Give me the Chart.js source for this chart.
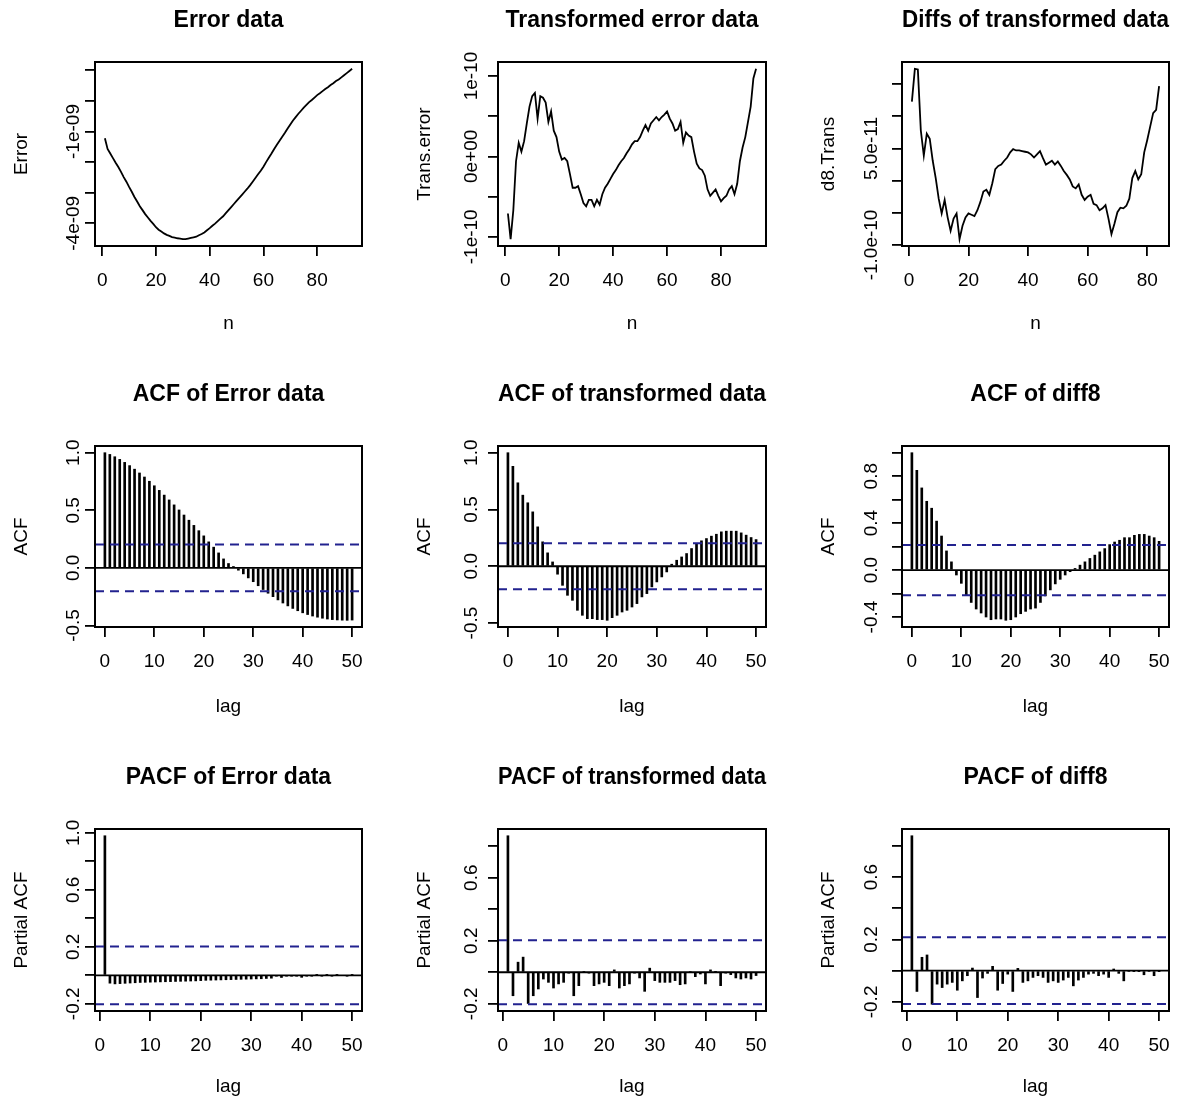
<!DOCTYPE html>
<html>
<head>
<meta charset="utf-8">
<script src="https://cdn.jsdelivr.net/npm/chart.js@4.4.1/dist/chart.umd.min.js"></script>
<style>
  body { margin: 0; background: #fff; }
  #wrap { position: relative; width: 1190px; height: 1104px; }
  #wrap canvas { position: absolute; }
</style>
</head>
<body>
<div id="wrap"></div>
<script>
// ---- data ----
const nError = Array.from({ length: 93 }, (_, i) => i + 1);
const errorData = [
  -1.22e-9, -1.57e-9, -1.72e-9, -1.87e-9, -2.02e-9, -2.16e-9, -2.32e-9, -2.49e-9, -2.64e-9, -2.81e-9,
  -2.97e-9, -3.14e-9, -3.29e-9, -3.44e-9, -3.57e-9, -3.70e-9, -3.81e-9, -3.92e-9, -4.02e-9, -4.13e-9,
  -4.21e-9, -4.27e-9, -4.33e-9, -4.38e-9, -4.41e-9, -4.45e-9, -4.47e-9, -4.49e-9, -4.50e-9, -4.52e-9,
  -4.52e-9, -4.50e-9, -4.48e-9, -4.46e-9, -4.44e-9, -4.39e-9, -4.35e-9, -4.30e-9, -4.23e-9, -4.16e-9,
  -4.08e-9, -4.01e-9, -3.93e-9, -3.85e-9, -3.77e-9, -3.67e-9, -3.57e-9, -3.47e-9, -3.37e-9, -3.27e-9,
  -3.17e-9, -3.07e-9, -2.97e-9, -2.87e-9, -2.76e-9, -2.64e-9, -2.52e-9, -2.40e-9, -2.28e-9, -2.15e-9,
  -2.00e-9, -1.86e-9, -1.72e-9, -1.57e-9, -1.43e-9, -1.30e-9, -1.17e-9, -1.04e-9, -0.90e-9, -0.77e-9,
  -0.64e-9, -0.53e-9, -0.42e-9, -0.32e-9, -0.22e-9, -0.13e-9, -0.04e-9, 0.03e-9, 0.11e-9, 0.19e-9,
  0.25e-9, 0.32e-9, 0.39e-9, 0.45e-9, 0.52e-9, 0.58e-9, 0.65e-9, 0.70e-9, 0.77e-9, 0.84e-9,
  0.91e-9, 0.98e-9, 1.05e-9
];

const nTrans = Array.from({ length: 93 }, (_, i) => i + 1);
const transData = [
  -0.71e-10, -1.03e-10, -0.67e-10, -0.06e-10, 0.17e-10, 0.06e-10, 0.19e-10, 0.41e-10, 0.62e-10, 0.75e-10,
  0.79e-10, 0.47e-10, 0.75e-10, 0.73e-10, 0.67e-10, 0.43e-10, 0.56e-10, 0.32e-10, 0.24e-10, 0.06e-10,
  -0.04e-10, -0.02e-10, -0.06e-10, -0.22e-10, -0.39e-10, -0.39e-10, -0.37e-10, -0.47e-10, -0.58e-10, -0.62e-10,
  -0.54e-10, -0.54e-10, -0.62e-10, -0.54e-10, -0.60e-10, -0.47e-10, -0.39e-10, -0.34e-10, -0.28e-10, -0.22e-10,
  -0.17e-10, -0.11e-10, -0.06e-10, -0.02e-10, 0.04e-10, 0.09e-10, 0.15e-10, 0.19e-10, 0.19e-10, 0.24e-10,
  0.32e-10, 0.39e-10, 0.32e-10, 0.41e-10, 0.45e-10, 0.49e-10, 0.45e-10, 0.49e-10, 0.52e-10, 0.56e-10,
  0.47e-10, 0.41e-10, 0.32e-10, 0.34e-10, 0.43e-10, 0.17e-10, 0.30e-10, 0.26e-10, 0.24e-10, 0.06e-10,
  -0.09e-10, -0.15e-10, -0.17e-10, -0.24e-10, -0.41e-10, -0.49e-10, -0.45e-10, -0.41e-10, -0.49e-10, -0.56e-10,
  -0.52e-10, -0.49e-10, -0.41e-10, -0.37e-10, -0.47e-10, -0.34e-10, -0.06e-10, 0.11e-10, 0.24e-10, 0.43e-10,
  0.62e-10, 0.97e-10, 1.09e-10
];

const nDiff = Array.from({ length: 84 }, (_, i) => i + 1);
const diffData = [
  1.23e-10, 1.74e-10, 1.73e-10, 0.78e-10, 0.39e-10, 0.73e-10, 0.65e-10, 0.31e-10, 0.04e-10, -0.28e-10,
  -0.51e-10, -0.30e-10, -0.57e-10, -0.78e-10, -0.59e-10, -0.51e-10, -0.91e-10, -0.70e-10, -0.57e-10, -0.51e-10,
  -0.53e-10, -0.55e-10, -0.46e-10, -0.33e-10, -0.17e-10, -0.14e-10, -0.22e-10, -0.04e-10, 0.18e-10, 0.23e-10,
  0.25e-10, 0.31e-10, 0.36e-10, 0.44e-10, 0.49e-10, 0.47e-10, 0.47e-10, 0.46e-10, 0.45e-10, 0.44e-10,
  0.41e-10, 0.36e-10, 0.41e-10, 0.46e-10, 0.35e-10, 0.25e-10, 0.28e-10, 0.31e-10, 0.25e-10, 0.30e-10,
  0.23e-10, 0.15e-10, 0.09e-10, 0.02e-10, -0.09e-10, -0.12e-10, -0.06e-10, -0.22e-10, -0.30e-10, -0.25e-10,
  -0.22e-10, -0.36e-10, -0.38e-10, -0.46e-10, -0.43e-10, -0.38e-10, -0.59e-10, -0.83e-10, -0.67e-10, -0.49e-10,
  -0.42e-10, -0.43e-10, -0.39e-10, -0.28e-10, 0.04e-10, 0.15e-10, 0.02e-10, 0.10e-10, 0.44e-10, 0.63e-10,
  0.84e-10, 1.05e-10, 1.10e-10, 1.47e-10
];

const acfLags = Array.from({ length: 51 }, (_, i) => i);
const acfError = [
  1.00, 0.985, 0.965, 0.942, 0.916, 0.888, 0.857, 0.824, 0.789, 0.752,
  0.713, 0.673, 0.632, 0.590, 0.547, 0.503, 0.459, 0.414, 0.369, 0.323,
  0.278, 0.226, 0.180, 0.130, 0.078, 0.038, 0.012, -0.020, -0.052, -0.087,
  -0.120, -0.155, -0.188, -0.220, -0.250, -0.278, -0.305, -0.330, -0.352, -0.372,
  -0.390, -0.405, -0.418, -0.428, -0.437, -0.444, -0.449, -0.452, -0.454, -0.455,
  -0.453
];
const acfTrans = [
  1.00, 0.88, 0.735, 0.626, 0.559, 0.479, 0.347, 0.215, 0.118, 0.038,
  -0.07, -0.168, -0.256, -0.30, -0.388, -0.432, -0.462, -0.462, -0.47, -0.47,
  -0.476, -0.453, -0.432, -0.403, -0.388, -0.359, -0.329, -0.27, -0.241, -0.182,
  -0.138, -0.094, -0.05, 0.018, 0.053, 0.082, 0.112, 0.156, 0.194, 0.224,
  0.244, 0.265, 0.282, 0.303, 0.309, 0.309, 0.309, 0.294, 0.274, 0.253,
  0.235
];
const acfDiff = [
  1.00, 0.85, 0.70, 0.586, 0.527, 0.417, 0.29, 0.163, 0.07, -0.042,
  -0.113, -0.211, -0.276, -0.332, -0.366, -0.40, -0.423, -0.417, -0.417, -0.428,
  -0.423, -0.40, -0.372, -0.352, -0.332, -0.324, -0.276, -0.22, -0.169, -0.118,
  -0.079, -0.042, -0.014, 0.014, 0.042, 0.07, 0.099, 0.127, 0.155, 0.183,
  0.217, 0.239, 0.254, 0.276, 0.276, 0.296, 0.304, 0.304, 0.29, 0.276,
  0.245
];

const pacfLags = Array.from({ length: 50 }, (_, i) => i + 1);
const pacfError = [
  0.98, -0.055, -0.06, -0.058, -0.056, -0.054, -0.052, -0.05, -0.049, -0.048,
  -0.047, -0.046, -0.045, -0.044, -0.043, -0.042, -0.041, -0.04, -0.039, -0.037,
  -0.035, -0.034, -0.033, -0.032, -0.031, -0.03, -0.029, -0.028, -0.027, -0.026,
  -0.025, -0.024, -0.022, -0.02, -0.004, -0.015, -0.003, -0.002, -0.002, -0.014,
  -0.002, -0.001, 0.001, -0.001, 0.001, -0.001, 0.001, 0.0, -0.001, 0.001
];
const pacfTrans = [
  0.866, -0.149, 0.064, 0.096, -0.198, -0.149, -0.106, -0.043, -0.064, -0.10,
  -0.074, -0.064, -0.006, -0.149, -0.085, 0.005, -0.005, -0.085, -0.074, -0.064,
  -0.085, 0.015, -0.10, -0.085, -0.074, -0.006, -0.036, -0.121, 0.026, -0.053,
  -0.064, -0.064, -0.064, -0.053, -0.079, -0.074, 0.006, -0.028, -0.011, -0.074,
  0.015, 0.002, -0.085, -0.005, -0.015, -0.036, -0.043, -0.036, -0.043, -0.021
];
const pacfDiff = [
  0.865, -0.133, 0.086, 0.101, -0.215, -0.086, -0.108, -0.086, -0.075, -0.125,
  -0.065, -0.032, 0.017, -0.172, -0.047, -0.017, 0.028, -0.125, -0.082, -0.022,
  -0.133, 0.015, -0.075, -0.065, -0.043, -0.032, -0.043, -0.075, -0.065, -0.075,
  -0.06, -0.043, -0.097, -0.06, -0.043, -0.022, -0.017, -0.032, -0.022, -0.043,
  0.011, -0.017, -0.065, -0.006, -0.004, -0.002, -0.026, -0.006, -0.032, -0.004
];

const ciError = 0.203;
const ciTrans = 0.203;
const ciDiff = 0.214;

// ticks
const seriesTicksX = [0, 20, 40, 60, 80];
const lagTicksX = [0, 10, 20, 30, 40, 50];
const errorTicksY = [-4e-9, -3e-9, -2e-9, -1e-9, 0, 1e-9];
const errorLabelsY = ['-4e-09', '', '', '-1e-09', '', ''];
const transTicksY = [-1e-10, -5e-11, 0, 5e-11, 1e-10];
const transLabelsY = ['-1e-10', '', '0e+00', '', '1e-10'];
const diffTicksY = [-1e-10, -5e-11, 0, 5e-11, 1e-10, 1.5e-10];
const diffLabelsY = ['-1.0e-10', '', '', '5.0e-11', '', ''];
const acfTicksY = [-0.5, 0, 0.5, 1];
const acfLabelsY = ['-0.5', '0.0', '0.5', '1.0'];
const acfDiffTicksY = [-0.4, -0.2, 0, 0.2, 0.4, 0.6, 0.8, 1.0];
const acfDiffLabelsY = ['-0.4', '', '0.0', '', '0.4', '', '0.8', ''];
const pacfErrTicksY = [-0.2, 0, 0.2, 0.4, 0.6, 0.8, 1.0];
const pacfErrLabelsY = ['-0.2', '', '0.2', '', '0.6', '', '1.0'];
const pacfTicksY = [-0.2, 0, 0.2, 0.4, 0.6, 0.8];
const pacfLabelsY = ['-0.2', '', '0.2', '', '0.6', ''];

// ---- layout ----
const FAMILY = "'Liberation Sans', Arial, Helvetica, sans-serif";
const FONT = 19, TITLE_FONT = 23, TICK_LEN = 10;
const LH = FONT * 1.2, TITLE_LH = TITLE_FONT * 1.2, MID = 0.3465 * FONT;
const PANEL_W = 396, PANEL_H = 368;
const COL_LEFT = [0, 397, 794];
const ROW_TOP = [0, 368, 736];
const BOX_L = [95, 498, 902], BOX_R = [362, 766, 1169];
const BOX_T = [62, 446, 829], BOX_B = [246, 627, 1011];
const TITLE_Y = [20.5, 395, 778];
const XTITLE_Y = [324, 707, 1087];
const YLABEL_GAP = [15, 20, 24];
const CI_COLOR = '#22228f';

Chart.defaults.font.family = FAMILY;
Chart.defaults.color = '#000';

const measureCtx = document.createElement('canvas').getContext('2d');
function widest(labels) {
  measureCtx.font = 'normal ' + FONT + 'px ' + FAMILY;
  return Math.max(...labels.map(t => measureCtx.measureText(t).width));
}

// R style axis range: data range stretched by 4% each side
function rRange(vals) {
  const lo = Math.min(...vals), hi = Math.max(...vals);
  const d = (hi - lo) * 0.04;
  return [lo - d, hi + d];
}

const boxPlugin = {
  id: 'box',
  afterDraw(chart) {
    const { ctx, chartArea: a } = chart;
    ctx.save();
    ctx.strokeStyle = '#000';
    ctx.lineWidth = 2;
    ctx.strokeRect(a.left, a.top, a.right - a.left, a.bottom - a.top);
    ctx.restore();
  }
};

function drawPanel(p) {
  const canvas = document.createElement('canvas');
  canvas.width = PANEL_W;
  canvas.height = PANEL_H;
  canvas.style.left = COL_LEFT[p.col] + 'px';
  canvas.style.top = ROW_TOP[p.row] + 'px';
  document.getElementById('wrap').appendChild(canvas);

  const c = p.col, r = p.row;
  const xr = rRange(p.x);
  const yr = p.kind === 'line' ? rRange(p.y) : rRange(p.y.concat([p.ci, -p.ci]));
  const pts = p.x.map((v, i) => ({ x: v, y: p.y[i] }));
  const hline = y => [{ x: xr[0], y: y }, { x: xr[1], y: y }];

  let datasets;
  if (p.kind === 'line') {
    datasets = [{ type: 'line', data: pts, borderColor: '#000', borderWidth: 1.8, pointRadius: 0, tension: 0 }];
  } else {
    datasets = [
      { type: 'line', data: hline(0), borderColor: '#000', borderWidth: 1.8, pointRadius: 0, order: 1 },
      { type: 'line', data: hline(p.ci), borderColor: CI_COLOR, borderWidth: 2, borderDash: [9, 6], pointRadius: 0, order: 1 },
      { type: 'line', data: hline(-p.ci), borderColor: CI_COLOR, borderWidth: 2, borderDash: [9, 6], pointRadius: 0, order: 1 },
      { type: 'bar', data: pts, backgroundColor: '#000', barThickness: 2, order: 2 }
    ];
  }

  const titleTop = TITLE_Y[r] - ROW_TOP[r] - TITLE_LH / 2;
  const titleBottom = BOX_T[r] - TITLE_Y[r] - TITLE_LH / 2;
  const yTickPad = YLABEL_GAP[c] + MID - TICK_LEN - widest(p.yLabels) / 2;

  new Chart(canvas, {
    type: p.kind === 'line' ? 'line' : 'bar',
    data: { datasets: datasets },
    options: {
      responsive: false,
      animation: false,
      events: [],
      layout: { padding: { left: 0, top: 0, bottom: 0, right: COL_LEFT[c] + PANEL_W - BOX_R[c] } },
      plugins: {
        legend: { display: false },
        tooltip: { enabled: false },
        title: {
          display: true,
          text: p.title,
          fullSize: false,
          color: '#000',
          font: { size: TITLE_FONT, weight: 'bold' },
          padding: { top: titleTop, bottom: titleBottom }
        }
      },
      scales: {
        x: {
          type: 'linear',
          min: xr[0],
          max: xr[1],
          bounds: 'data',
          offset: false,
          grid: { drawOnChartArea: false, drawTicks: true, tickLength: TICK_LEN, color: '#000', lineWidth: 1.8, offset: false },
          border: { display: false },
          ticks: {
            autoSkip: false, minRotation: 0, maxRotation: 0,
            padding: 35 - TICK_LEN - LH / 2,
            font: { size: FONT }, color: '#000',
            callback: (v, i) => String(p.xTicks[i])
          },
          afterBuildTicks: s => { s.ticks = p.xTicks.map(v => ({ value: v })); },
          afterFit: s => { s.height = ROW_TOP[r] + PANEL_H - BOX_B[r]; s.paddingLeft = 0; s.paddingRight = 0; },
          title: {
            display: true, text: p.xTitle, color: '#000', font: { size: FONT },
            padding: { top: 0, bottom: ROW_TOP[r] + PANEL_H - XTITLE_Y[r] - LH / 2 }
          }
        },
        y: {
          type: 'linear',
          min: yr[0],
          max: yr[1],
          bounds: 'data',
          grid: { drawOnChartArea: false, drawTicks: true, tickLength: TICK_LEN, color: '#000', lineWidth: 1.8 },
          border: { display: false },
          ticks: {
            autoSkip: false, minRotation: 90, maxRotation: 90, crossAlign: 'center',
            padding: yTickPad,
            font: { size: FONT }, color: '#000',
            callback: (v, i) => p.yLabels[i]
          },
          afterBuildTicks: s => { s.ticks = p.yTicks.map(v => ({ value: v })); },
          afterFit: s => { s.width = BOX_L[c] - COL_LEFT[c]; s.paddingTop = 0; s.paddingBottom = 0; },
          title: {
            display: true, text: p.yTitle, color: '#000', font: { size: FONT },
            padding: { top: BOX_L[c] - 73 - COL_LEFT[c] - LH / 2, bottom: 0 }
          }
        }
      }
    },
    plugins: [boxPlugin]
  });
}

const panels = [
  { col: 0, row: 0, kind: 'line', title: 'Error data', xTitle: 'n', yTitle: 'Error',
    x: nError, y: errorData, xTicks: seriesTicksX, yTicks: errorTicksY, yLabels: errorLabelsY },
  { col: 1, row: 0, kind: 'line', title: 'Transformed error data', xTitle: 'n', yTitle: 'Trans.error',
    x: nTrans, y: transData, xTicks: seriesTicksX, yTicks: transTicksY, yLabels: transLabelsY },
  { col: 2, row: 0, kind: 'line', title: 'Diffs of transformed data', xTitle: 'n', yTitle: 'd8.Trans',
    x: nDiff, y: diffData, xTicks: seriesTicksX, yTicks: diffTicksY, yLabels: diffLabelsY },
  { col: 0, row: 1, kind: 'acf', title: 'ACF of Error data', xTitle: 'lag', yTitle: 'ACF',
    x: acfLags, y: acfError, ci: ciError, xTicks: lagTicksX, yTicks: acfTicksY, yLabels: acfLabelsY },
  { col: 1, row: 1, kind: 'acf', title: 'ACF of transformed data', xTitle: 'lag', yTitle: 'ACF',
    x: acfLags, y: acfTrans, ci: ciTrans, xTicks: lagTicksX, yTicks: acfTicksY, yLabels: acfLabelsY },
  { col: 2, row: 1, kind: 'acf', title: 'ACF of diff8', xTitle: 'lag', yTitle: 'ACF',
    x: acfLags, y: acfDiff, ci: ciDiff, xTicks: lagTicksX, yTicks: acfDiffTicksY, yLabels: acfDiffLabelsY },
  { col: 0, row: 2, kind: 'acf', title: 'PACF of Error data', xTitle: 'lag', yTitle: 'Partial ACF',
    x: pacfLags, y: pacfError, ci: ciError, xTicks: lagTicksX, yTicks: pacfErrTicksY, yLabels: pacfErrLabelsY },
  { col: 1, row: 2, kind: 'acf', title: 'PACF of transformed data', xTitle: 'lag', yTitle: 'Partial ACF',
    x: pacfLags, y: pacfTrans, ci: ciTrans, xTicks: lagTicksX, yTicks: pacfTicksY, yLabels: pacfLabelsY },
  { col: 2, row: 2, kind: 'acf', title: 'PACF of diff8', xTitle: 'lag', yTitle: 'Partial ACF',
    x: pacfLags, y: pacfDiff, ci: ciDiff, xTicks: lagTicksX, yTicks: pacfTicksY, yLabels: pacfLabelsY }
];

panels.forEach(drawPanel);
</script>
</body>
</html>
